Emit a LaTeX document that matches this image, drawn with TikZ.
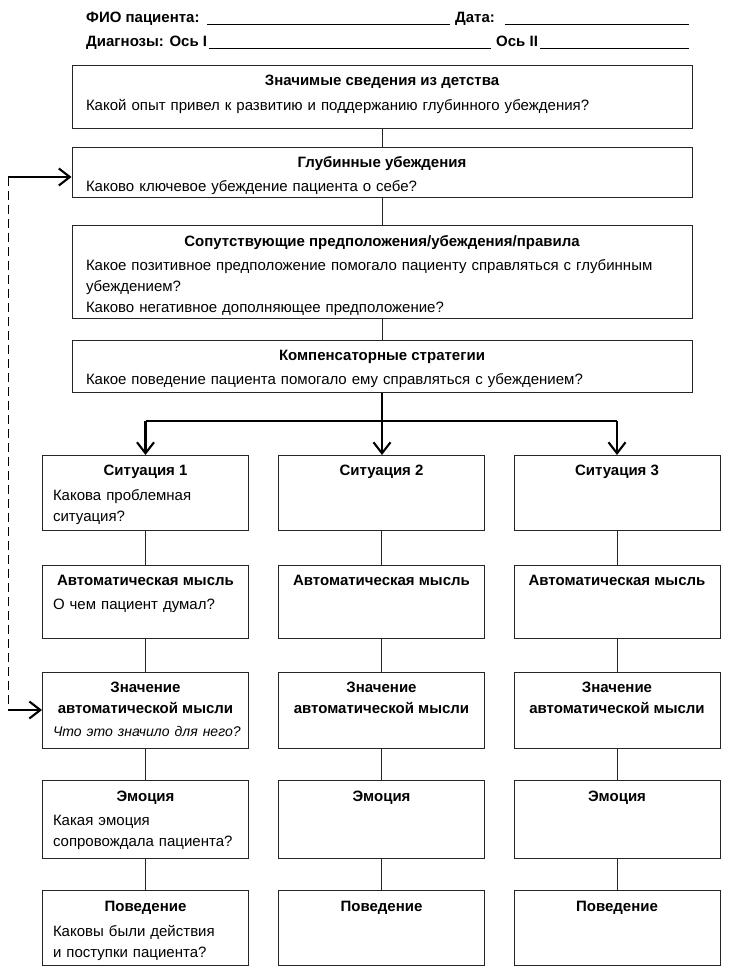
\documentclass[tikz,border=0pt]{standalone}
\usepackage{fontspec}
\setmainfont{Liberation Sans}
\usetikzlibrary{arrows.meta,positioning,calc}
\tikzset{
  % framed boxes of the case sheet
  cardbox/.style={draw=black!85, line width=0.9pt, inner sep=0pt},
  widecard/.style={cardbox, minimum width=620pt},
  colcard/.style={cardbox, minimum width=206pt},
  % bold headline and question text inside a box
  headln/.style={font=\bfseries\fontsize{15}{20.5}\selectfont, inner sep=0pt,
    align=center, text depth=0pt},
  asktxt/.style={font=\fontsize{15}{21}\selectfont, inner sep=0pt, align=left},
  askcol/.style={asktxt, text width=194pt, xshift=4.5pt},
  askwide/.style={asktxt, text width=592pt},
  % header of the form
  formhd/.style={font=\bfseries\fontsize{15}{20}\selectfont, inner sep=0pt},
  formln/.style={line width=0.7pt},
  % thin links, heavy arrows, dashed return line
  linkln/.style={line width=0.8pt, black!85},
  flowarr/.style={-{Straight Barb[length=11pt,width=17pt]}, line width=2.1pt},
  backln/.style={line width=0.8pt, dash pattern=on 9pt off 5pt},
}

\begin{document}
\begin{tikzpicture}[x=1pt, y=-1pt]
    \useasboundingbox (0,0) rectangle (733,973);
    % form header
    \node[formhd, anchor=base west] (patient) at (86,23) {ФИО пациента:};
    \node[formhd, anchor=base west] (date) at (455,23) {Дата:};
    \node[formhd, anchor=base west] (diag) at (86,47) {Диагнозы: Ось I};
    \node[formhd, anchor=base west] (axis2) at (496,47) {Ось II};
    \draw[formln] (207,24) -- (450,24);
    \draw[formln] (505,24) -- (689,24);
    \draw[formln] (209,48) -- (491,48);
    \draw[formln] (540,48) -- (689,48);
    % wide boxes
    \node[widecard, minimum height=63pt, anchor=north] (childhood) at (382,65) {};
    \node[headln, below=10pt of childhood.north] (childhood-h) {Значимые сведения из детства};
    \node[askwide, below=13pt of childhood-h.south] (childhood-q)
      {Какой опыт привел к развитию и поддержанию глубинного убеждения?};
    \node[widecard, minimum height=50pt, anchor=north] (core) at (382,147) {};
    \node[headln, below=9pt of core.north] (core-h) {Глубинные убеждения};
    \node[askwide, below=13pt of core-h.south] (core-q)
      {Каково ключевое убеждение пациента о себе?};
    \node[widecard, minimum height=93pt, anchor=north] (rules) at (382,225) {};
    \node[headln, below=10pt of rules.north] (rules-h) {Сопутствующие предположения/убеждения/правила};
    \node[askwide, below=13pt of rules-h.south] (rules-q)
      {Какое позитивное предположение помогало пациенту справляться с глубинным\\
       убеждением?\\Каково негативное дополняющее предположение?};
    \node[widecard, minimum height=52pt, anchor=north] (coping) at (382,340) {};
    \node[headln, below=10pt of coping.north] (coping-h) {Компенсаторные стратегии};
    \node[askwide, below=13pt of coping-h.south] (coping-q)
      {Какое поведение пациента помогало ему справляться с убеждением?};
    \draw[linkln] (childhood) -- (core);
    \draw[linkln] (core) -- (rules);
    \draw[linkln] (rules) -- (coping);
    % first column, with questions
    \node[colcard, minimum height=75pt, anchor=north] (sit1) at (145.5,455) {};
    \node[headln, below=10pt of sit1.north] (sit1-h) {Ситуация 1};
    \node[askcol, below=13pt of sit1-h.south] (sit1-q) {Какова проблемная\\ситуация?};
    \node[colcard, minimum height=73pt, anchor=north] (auto1) at (145.5,565) {};
    \node[headln, below=10pt of auto1.north] (auto1-h) {Автоматическая мысль};
    \node[askcol, below=13pt of auto1-h.south] (auto1-q) {О чем пациент думал?};
    \node[colcard, minimum height=76pt, anchor=north] (mean1) at (145.5,672) {};
    \node[headln, below=10pt of mean1.north] (mean1-h) {Значение\\автоматической мысли};
    \node[askcol, below=13pt of mean1-h.south] (mean1-q)
      {\mbox{\itshape\fontsize{14}{21}\selectfont Что это значило для него?}};
    \node[colcard, minimum height=78pt, anchor=north] (emo1) at (145.5,780) {};
    \node[headln, below=11pt of emo1.north] (emo1-h) {Эмоция};
    \node[askcol, below=13pt of emo1-h.south] (emo1-q) {Какая эмоция\\сопровождала пациента?};
    \node[colcard, minimum height=75pt, anchor=north] (beh1) at (145.5,890) {};
    \node[headln, below=11pt of beh1.north] (beh1-h) {Поведение};
    \node[askcol, below=13pt of beh1-h.south] (beh1-q) {Каковы были действия\\и поступки пациента?};
    \draw[linkln] (sit1) -- (auto1);
    \draw[linkln] (auto1) -- (mean1);
    \draw[linkln] (mean1) -- (emo1);
    \draw[linkln] (emo1) -- (beh1);
    % second and third columns, headlines only
    \foreach \c/\cx in {2/381.5, 3/617} {
      \node[colcard, minimum height=75pt, anchor=north] (sit\c) at (\cx,455) {};
      \node[headln, below=10pt of sit\c.north] (sit\c-h) {Ситуация \c};
      \node[colcard, minimum height=73pt, anchor=north] (auto\c) at (\cx,565) {};
      \node[headln, below=10pt of auto\c.north] (auto\c-h) {Автоматическая мысль};
      \node[colcard, minimum height=76pt, anchor=north] (mean\c) at (\cx,672) {};
      \node[headln, below=10pt of mean\c.north] (mean\c-h) {Значение\\автоматической мысли};
      \node[colcard, minimum height=78pt, anchor=north] (emo\c) at (\cx,780) {};
      \node[headln, below=11pt of emo\c.north] (emo\c-h) {Эмоция};
      \node[colcard, minimum height=75pt, anchor=north] (beh\c) at (\cx,890) {};
      \node[headln, below=11pt of beh\c.north] (beh\c-h) {Поведение};
      \draw[linkln] (sit\c) -- (auto\c);
      \draw[linkln] (auto\c) -- (mean\c);
      \draw[linkln] (mean\c) -- (emo\c);
      \draw[linkln] (emo\c) -- (beh\c);
    }
    % fork from the coping strategies into the three situations
    \coordinate (fork) at ($(coping.south)+(0,28)$);
    \draw[flowarr] (coping.south) -- (coping.south |- sit2.north);
    \draw[line width=1.6pt] (sit1.north |- fork) -- (sit3.north |- fork);
    \draw[flowarr] (sit1.north |- fork) -- (sit1.north);
    \draw[flowarr] (sit3.north |- fork) -- (sit3.north);
    % return line from the meaning back to the core beliefs
    \coordinate (backtop) at (8,177);
    \coordinate (backbot) at (8,710);
    \draw[backln] (backtop) -- (backbot);
    \draw[flowarr] (backtop) -- (backtop -| core.west);
    \draw[flowarr] (backbot) -- (backbot -| mean1.west);
\end{tikzpicture}
\end{document}
